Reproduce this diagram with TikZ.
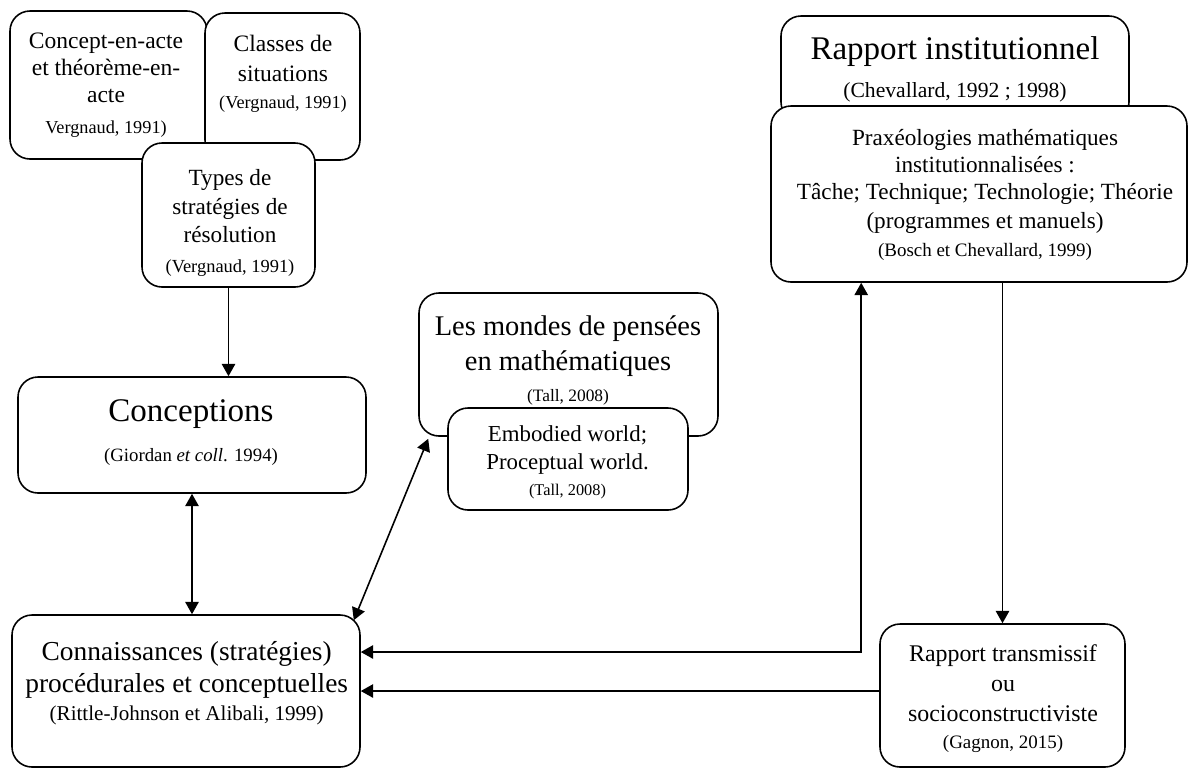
\documentclass[tikz,border=0pt]{standalone}
\usepackage{fontspec}
\setmainfont{Liberation Serif}
\usetikzlibrary{calc}
\usetikzlibrary{positioning}
\usetikzlibrary{arrows.meta,fit}
\tikzset{
  bloc/.style={draw, fill=white, rounded corners=0.4cm, line width=0.9pt, inner sep=0pt},
  texte/.style={align=center, inner sep=0pt},
  fleche/.style={line width=0.9pt, -{Triangle[length=7pt,width=7.6pt]}},
  fleche2/.style={line width=0.9pt, {Triangle[length=7pt,width=7.6pt]}-{Triangle[length=7pt,width=7.6pt]}},
}
\newcommand{\cit}[1]{\fontsize{#1}{#1}\selectfont}

\begin{document}
\begin{tikzpicture}[x=0.02cm,y=-0.02cm]
  \useasboundingbox (0,0) rectangle (1189,769);

  % boites (dans l'ordre de superposition)
  \foreach \nom/\xa/\ya/\xb/\yb in {concept/10/11/207/159, classes/205/13/360/160,
    types/142/143/315/287, conceptions/18/377/366/493, connaissances/12/615/360/767,
    mondes/419/293/718/436, embodied/448/408/688/510, rapport/781/16/1129/122,
    praxeo/771/106/1187/282, transmissif/880/624/1125/767} {
    \node[bloc, fit={(\xa,\ya) (\xb,\yb)}] (\nom) {};
  }

  % textes
  \node[texte, font=\fontsize{13.4}{15.4}\selectfont] (conceptT) at (106,85.5)
    {Concept-en-acte\\et théorème-en-\\acte\\[2.3pt]{\cit{10.4}Vergnaud, 1991)}};
  \node[texte, font=\fontsize{13.4}{15.4}\selectfont] (classesT) at (283,73.5)
    {Classes de\\[1.7pt]situations\\{\cit{10.4}(Vergnaud, 1991)}};
  \node[texte, font=\fontsize{13.2}{15.4}\selectfont] (typesT) at (230,223)
    {Types de\\[0.6pt]stratégies de\\[0.6pt]résolution\\[1.7pt]{\cit{10.5}(Vergnaud, 1991)}};
  \node[texte, font=\fontsize{18.8}{22.8}\selectfont] (conceptionsT) at (191,433)
    {Conceptions\\{\cit{10.7}(Giordan \textit{et coll}. 1994)}};
  \node[texte, font=\fontsize{16.2}{19.9}\selectfont] (mondesT) at (568,360)
    {Les mondes de pensées\\en mathématiques\\[-2.3pt]{\cit{9.9}(Tall, 2008)}};
  \node[texte, font=\fontsize{13}{15.9}\selectfont] (embodiedT) at (567.5,462)
    {Embodied world;\\Proceptual world.\\[-1pt]{\cit{9.3}(Tall, 2008)}};
  \node[texte, font=\fontsize{18.8}{21.6}\selectfont] (rapportT) at (955,69)
    {Rapport institutionnel\\{\cit{12.3}(Chevallard, 1992 ; 1998)}};
  \node[texte, font=\fontsize{13.2}{15.4}\selectfont] (praxeoT) at (985,195)
    {Praxéologies mathématiques\\institutionnalisées :\\Tâche; Technique; Technologie; Théorie\\[1pt](programmes et manuels)\\[0.6pt]{\cit{10.8}(Bosch et Chevallard, 1999)}};
  \node[texte, font=\fontsize{15.6}{18.2}\selectfont] (connaissancesT) at (186.7,683)
    {Connaissances (stratégies)\\procédurales et conceptuelles\\[-2.3pt]{\cit{12}(Rittle-Johnson et Alibali, 1999)}};
  \node[texte, font=\fontsize{13.6}{17.1}\selectfont] (transmissifT) at (1003,698.5)
    {Rapport transmissif\\ou\\socioconstructiviste\\[-1.7pt]{\cit{10.8}(Gagnon, 2015)}};

  % liens
  \draw[fleche] (types.south) -- (types.south |- conceptions.north);
  \draw[fleche2] (conceptions.south) -- (conceptions.south |- connaissances.north);
  \draw[fleche2] ($(mondes.south west)+(10,2)$) -- ($(connaissances.north east)+(-7,6)$);
  \draw[fleche2] ($(connaissances.east)+(0,-39)$) -| ($(praxeo.south west)+(91,0)$);
  \draw[fleche] (praxeo.south -| transmissif.north) -- (transmissif.north);
  \draw[fleche] (transmissif.west |- connaissances.east) -- (connaissances.east);
\end{tikzpicture}
\end{document}
